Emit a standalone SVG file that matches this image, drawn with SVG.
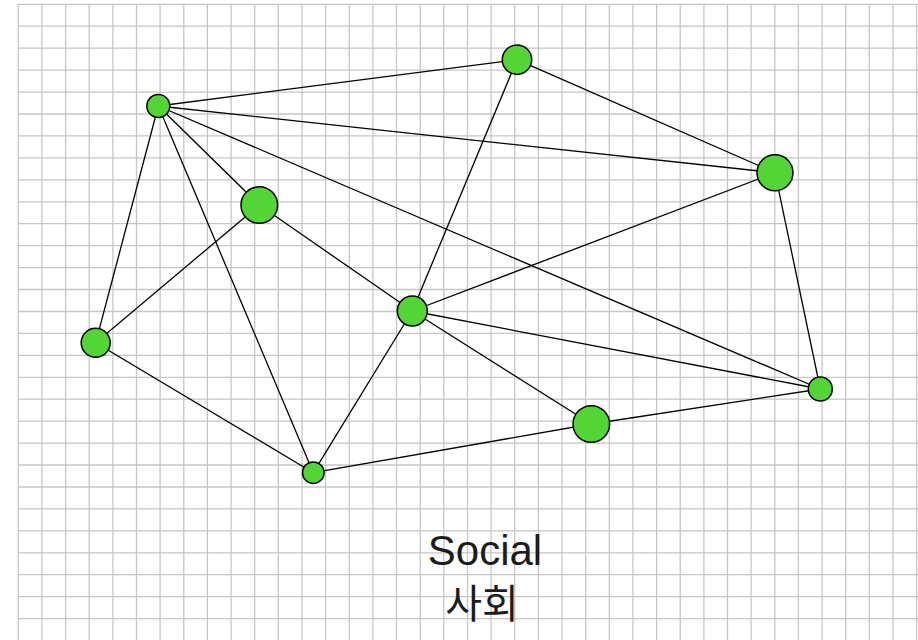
<svg xmlns="http://www.w3.org/2000/svg" width="918" height="640" viewBox="0 0 918 640">
<style>
.grid{stroke:#c6c6c6;stroke-width:1.3;fill:none}
.edge{stroke:#000;stroke-width:1.3;fill:none}
.node{fill:#54d536;stroke:#000;stroke-width:1.5}
.lbl{font-family:"Liberation Sans","Noto Sans CJK KR",sans-serif;fill:#1c1c1c;text-anchor:middle}
</style>
<rect width="918" height="640" fill="#fff"/>
<g id="grid" class="grid">
<path d="M18.3 4.3V640M41.9 4.3V640M65.6 4.3V640M89.2 4.3V640M112.9 4.3V640M136.5 4.3V640M160.1 4.3V640M183.8 4.3V640M207.4 4.3V640M231.1 4.3V640M254.7 4.3V640M278.3 4.3V640M302 4.3V640M325.6 4.3V640M349.3 4.3V640M372.9 4.3V640M396.5 4.3V640M420.2 4.3V640M443.8 4.3V640M467.5 4.3V640M491.1 4.3V640M514.7 4.3V640M538.4 4.3V640M562 4.3V640M585.7 4.3V640M609.3 4.3V640M632.9 4.3V640M656.6 4.3V640M680.2 4.3V640M703.9 4.3V640M727.5 4.3V640M751.1 4.3V640M774.8 4.3V640M798.4 4.3V640M822.1 4.3V640M845.7 4.3V640M869.3 4.3V640M893 4.3V640M916.6 4.3V640"/>
<path d="M18.3 4.3H918M18.3 26.2H918M18.3 48.2H918M18.3 70.1H918M18.3 92.1H918M18.3 114H918M18.3 135.9H918M18.3 157.9H918M18.3 179.8H918M18.3 201.8H918M18.3 223.7H918M18.3 245.6H918M18.3 267.6H918M18.3 289.5H918M18.3 311.5H918M18.3 333.4H918M18.3 355.3H918M18.3 377.3H918M18.3 399.2H918M18.3 421.2H918M18.3 443.1H918M18.3 465H918M18.3 487H918M18.3 508.9H918M18.3 530.9H918M18.3 552.8H918M18.3 574.7H918M18.3 596.7H918M18.3 618.6H918"/>
</g>
<g id="connectors" class="edge">
<line x1="158.3" y1="106" x2="517" y2="59.7"/>
<line x1="158.3" y1="106" x2="775" y2="172.7"/>
<line x1="158.3" y1="106" x2="259.3" y2="205"/>
<line x1="158.3" y1="106" x2="95.7" y2="342.7"/>
<line x1="158.3" y1="106" x2="313.3" y2="472.7"/>
<line x1="158.3" y1="106" x2="820.3" y2="389"/>
<line x1="517" y1="59.7" x2="775" y2="172.7"/>
<line x1="517" y1="59.7" x2="412.3" y2="311"/>
<line x1="775" y1="172.7" x2="412.3" y2="311"/>
<line x1="775" y1="172.7" x2="820.3" y2="389"/>
<line x1="259.3" y1="205" x2="95.7" y2="342.7"/>
<line x1="259.3" y1="205" x2="412.3" y2="311"/>
<line x1="95.7" y1="342.7" x2="313.3" y2="472.7"/>
<line x1="412.3" y1="311" x2="313.3" y2="472.7"/>
<line x1="412.3" y1="311" x2="820.3" y2="389"/>
<line x1="412.3" y1="311" x2="591.3" y2="424"/>
<line x1="591.3" y1="424" x2="820.3" y2="389"/>
<line x1="313.3" y1="472.7" x2="591.3" y2="424"/>
</g>
<g id="n1"><circle class="node" cx="158.3" cy="106" r="11.5"/></g>
<g id="n2"><circle class="node" cx="517" cy="59.7" r="14.7"/></g>
<g id="n3"><circle class="node" cx="775" cy="172.7" r="18"/></g>
<g id="n4"><circle class="node" cx="259.3" cy="205" r="18.3"/></g>
<g id="n5"><circle class="node" cx="95.7" cy="342.7" r="14.5"/></g>
<g id="n6"><circle class="node" cx="412.3" cy="311" r="15"/></g>
<g id="n7"><circle class="node" cx="820.3" cy="389" r="12"/></g>
<g id="n8"><circle class="node" cx="591.3" cy="424" r="18.3"/></g>
<g id="n9"><circle class="node" cx="313.3" cy="472.7" r="10.8"/></g>
<g id="label">
<text class="lbl" x="485" y="565" font-size="42">Social</text>
<text class="lbl" x="482" y="618" font-size="40">사회</text>
</g>
</svg>
